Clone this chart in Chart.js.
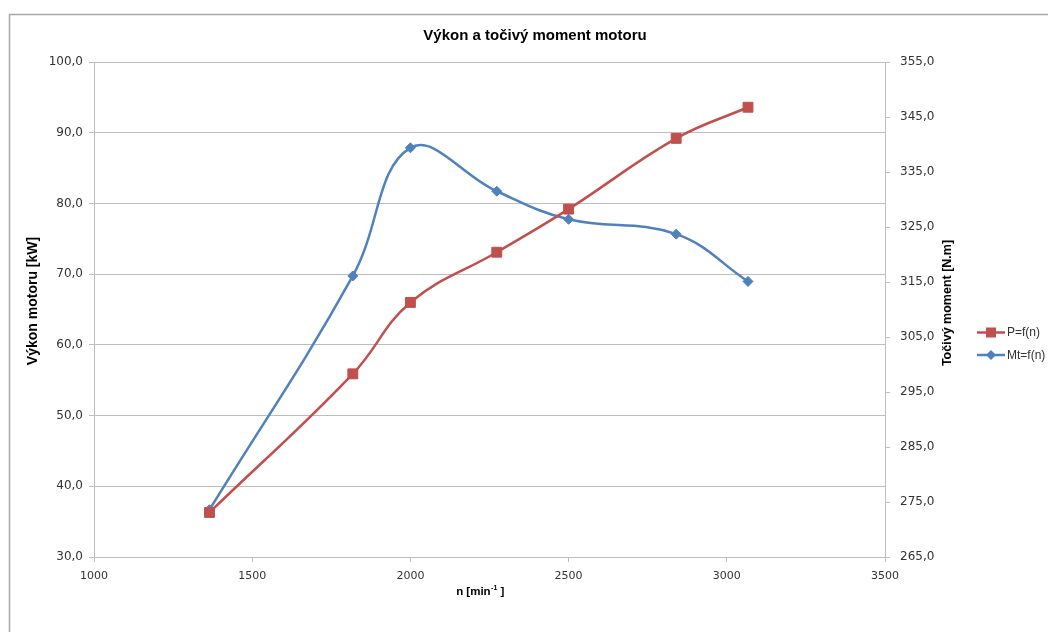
<!DOCTYPE html>
<html><head><meta charset="utf-8">
<script src="https://cdn.jsdelivr.net/npm/chart.js@4"></script>
<style>html,body{margin:0;padding:0;background:#fff;overflow:hidden}#wrap{width:1048px;height:632px;position:relative}</style>
</head><body><div id="wrap"><canvas id="c" width="1048" height="632"></canvas></div>
<script>
const rpm = [1365, 1818, 2000, 2273, 2500, 2840, 3067];
const power = [36.3, 55.9, 66.0, 73.1, 79.2, 89.2, 93.6];
const torque = [273.6, 316.1, 339.4, 331.5, 326.4, 323.7, 315.1];
const xTicks = [1000, 1500, 2000, 2500, 3000, 3500];
const powerTicks = [30, 40, 50, 60, 70, 80, 90, 100];
const torqueTicks = [265, 275, 285, 295, 305, 315, 325, 335, 345, 355];
const seriesLabels = ['P=f(n)', 'Mt=f(n)'];
const chartTitle = 'Výkon a točivý moment motoru';
const xTitleMain = 'n [min';
const xTitleSup = '-1';
const xTitleEnd = ' ]';
const yTitle = 'Výkon motoru [kW]';
const y1Title = 'Točivý moment [N.m]';

const RED = '#C0504D', BLUE = '#4F81BD', GRID = '#bdbdbd', TXT = '#333333';
const fmt = v => Number(v).toFixed(1).replace('.', ',');
const setTicks = arr => s => { s.ticks = arr.map(v => ({ value: v })); };

function rotText(ctx, text, x, y, font) {
  ctx.save();
  ctx.translate(x, y);
  ctx.rotate(-Math.PI / 2);
  ctx.font = font;
  ctx.fillStyle = '#000';
  ctx.textAlign = 'center';
  ctx.textBaseline = 'middle';
  ctx.fillText(text, 0, 0);
  ctx.restore();
}

const decor = {
  id: 'decor',
  beforeDraw(chart) {
    const ctx = chart.ctx;
    ctx.save();
    ctx.fillStyle = '#fff';
    ctx.fillRect(0, 0, chart.width, chart.height);
    ctx.strokeStyle = '#a8a8a8';
    ctx.lineWidth = 1.5;
    ctx.strokeRect(9.5, 14.5, 1200, 800);
    ctx.restore();
  },
  afterDraw(chart) {
    const ctx = chart.ctx;
    // chart title
    ctx.save();
    ctx.font = 'bold 15px "Liberation Sans"';
    ctx.fillStyle = '#000';
    ctx.textAlign = 'center';
    ctx.textBaseline = 'middle';
    ctx.fillText(chartTitle, 535, 36);
    ctx.restore();
    // axis titles
    rotText(ctx, yTitle, 33, 301, 'bold 14px "Liberation Sans"');
    rotText(ctx, y1Title, 948, 303, 'bold 12.5px "Liberation Sans"');
    // x axis title with superscript
    ctx.save();
    ctx.fillStyle = '#000';
    ctx.textBaseline = 'middle';
    ctx.textAlign = 'left';
    const fMain = 'bold 11.5px "Liberation Sans"', fSup = 'bold 7px "Liberation Sans"';
    ctx.font = fMain; const w1 = ctx.measureText(xTitleMain).width, w3 = ctx.measureText(xTitleEnd).width;
    ctx.font = fSup; const w2 = ctx.measureText(xTitleSup).width;
    let x0 = 480 - (w1 + w2 + w3) / 2;
    ctx.font = fMain; ctx.fillText(xTitleMain, x0, 592);
    ctx.font = fSup; ctx.fillText(xTitleSup, x0 + w1 + 0.5, 588);
    ctx.font = fMain; ctx.fillText(xTitleEnd, x0 + w1 + w2 + 0.5, 592);
    ctx.restore();
    // legend
    chart.data.datasets.forEach((ds, i) => {
      const y = 332.5 + i * 22.5;
      ctx.save();
      ctx.strokeStyle = ds.borderColor;
      ctx.lineWidth = 2.5;
      ctx.beginPath(); ctx.moveTo(977, y); ctx.lineTo(1005, y); ctx.stroke();
      ctx.fillStyle = ds.pointBackgroundColor;
      ctx.beginPath();
      const cx = 991;
      if (ds.pointStyle === 'rect') {
        ctx.rect(cx - 5, y - 5, 10, 10);
      } else {
        ctx.moveTo(cx, y - 5); ctx.lineTo(cx + 5, y); ctx.lineTo(cx, y + 5); ctx.lineTo(cx - 5, y); ctx.closePath();
      }
      ctx.fill();
      ctx.font = '12px "Liberation Sans"';
      ctx.fillStyle = TXT;
      ctx.textAlign = 'left';
      ctx.textBaseline = 'middle';
      ctx.fillText(ds.label, 1007, y + 0.5);
      ctx.restore();
    });
  }
};

new Chart(document.getElementById('c'), {
  type: 'line',
  data: {
    datasets: [
      {
        label: seriesLabels[0], yAxisID: 'y',
        data: rpm.map((n, i) => ({ x: n, y: power[i] })),
        borderColor: RED, backgroundColor: RED, pointBackgroundColor: RED, pointBorderColor: RED,
        pointStyle: 'rect', pointRadius: 7, pointBorderWidth: 1, borderWidth: 2.5, tension: 0.4, fill: false
      },
      {
        label: seriesLabels[1], yAxisID: 'y1',
        data: rpm.map((n, i) => ({ x: n, y: torque[i] })),
        borderColor: BLUE, backgroundColor: BLUE, pointBackgroundColor: BLUE, pointBorderColor: BLUE,
        pointStyle: 'rectRot', pointRadius: 5, pointBorderWidth: 1, borderWidth: 2.5, tension: 0.4, fill: false
      }
    ]
  },
  options: {
    responsive: false, animation: false, devicePixelRatio: 1,
    layout: { padding: { left: 0, right: 83, top: 62, bottom: 0 } },
    plugins: {
      legend: { display: false },
      tooltip: { enabled: false },
      title: { display: false }
    },
    scales: {
      x: {
        type: 'linear', min: 1000, max: 3500,
        afterBuildTicks: setTicks(xTicks),
        afterFit: s => { s.height = 75; },
        grid: { drawOnChartArea: false, drawTicks: true, tickLength: 5, color: GRID },
        border: { display: true, color: GRID, width: 1 },
        ticks: { padding: 8, color: TXT, font: { family: 'DejaVu Sans', size: 11 }, callback: v => String(v), maxRotation: 0 },
        title: { display: false }
      },
      y: {
        type: 'linear', position: 'left', min: 30, max: 100,
        afterBuildTicks: setTicks(powerTicks),
        afterFit: s => { s.width = 94; },
        grid: { drawOnChartArea: true, drawTicks: true, tickLength: 5, color: GRID },
        border: { display: true, color: GRID, width: 1 },
        ticks: { padding: 6, color: TXT, font: { family: 'DejaVu Sans', size: 12 }, callback: v => fmt(v) },
        title: { display: false }
      },
      y1: {
        type: 'linear', position: 'right', min: 265, max: 355,
        afterBuildTicks: setTicks(torqueTicks),
        afterFit: s => { s.width = 80; },
        grid: { drawOnChartArea: false, drawTicks: true, tickLength: 5, color: GRID },
        border: { display: true, color: GRID, width: 1 },
        ticks: { padding: 10, color: TXT, font: { family: 'DejaVu Sans', size: 12 }, callback: v => fmt(v) }
      }
    }
  },
  plugins: [decor]
});
</script>
</body></html>
